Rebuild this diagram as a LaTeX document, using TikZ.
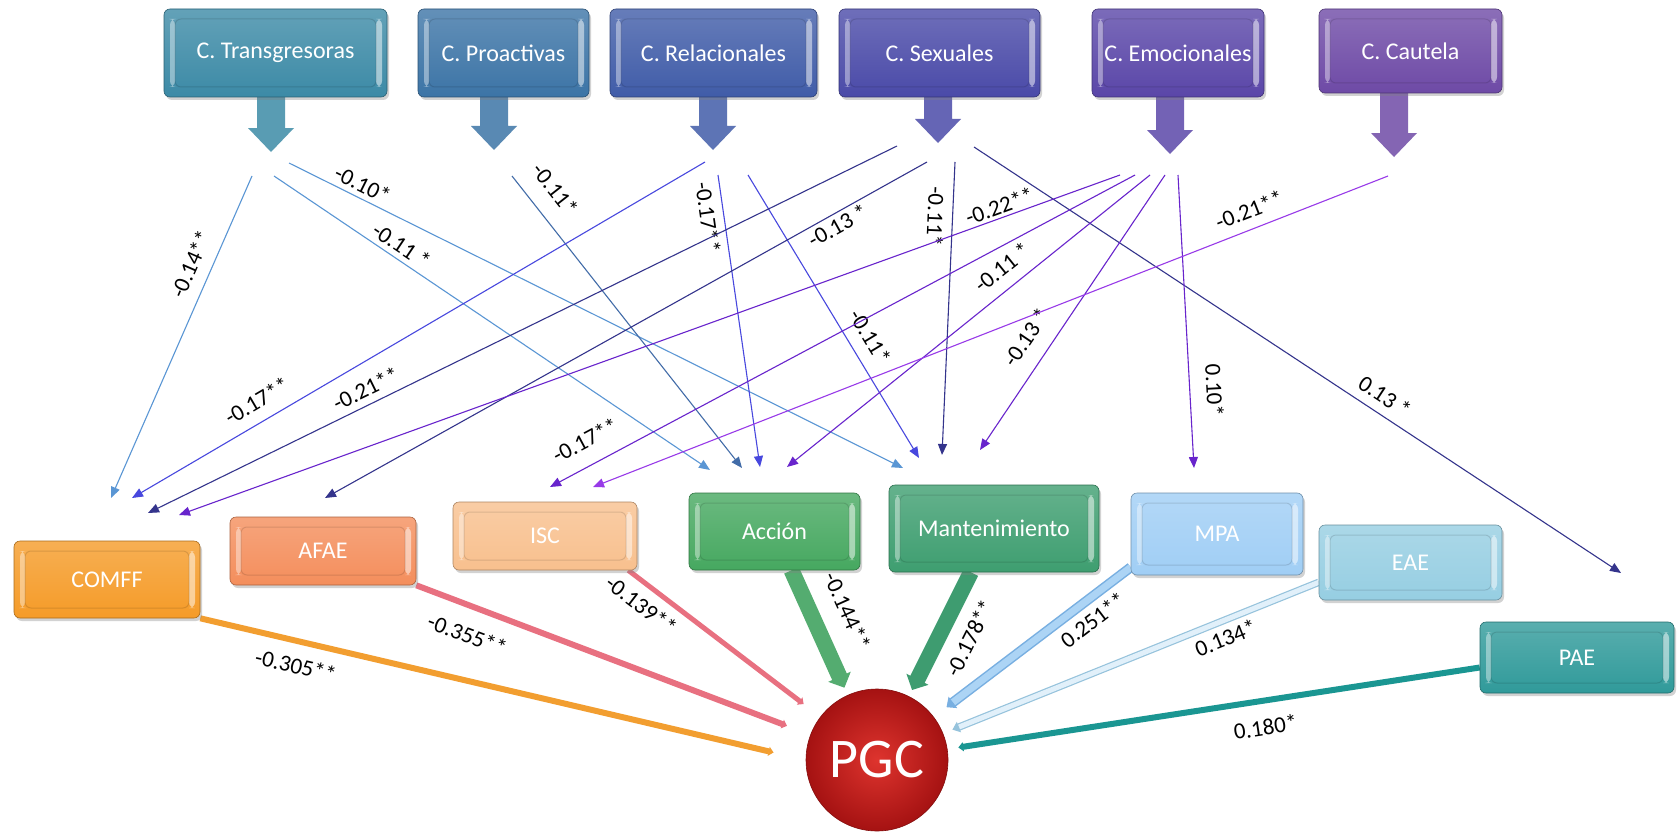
\documentclass[tikz,border=0pt]{standalone}
\usepackage{fontspec}
\setmainfont{Carlito}
\usetikzlibrary{arrows.meta,shadows,calc}
\newcommand\bxfont{\fontsize{24}{28}\selectfont}
\newcommand\lbfont{\fontsize{23}{26}\selectfont}
\definecolor{cTra}{RGB}{60,138,166}
\definecolor{cPro}{RGB}{60,116,166}
\definecolor{cRel}{RGB}{64,92,168}
\definecolor{cSex}{RGB}{74,74,168}
\definecolor{cEmo}{RGB}{90,70,168}
\definecolor{cCau}{RGB}{110,74,166}
\definecolor{cCom}{RGB}{245,155,40}
\definecolor{cAfa}{RGB}{244,142,92}
\definecolor{cIsc}{RGB}{248,192,142}
\definecolor{cAcc}{RGB}{70,168,96}
\definecolor{cMan}{RGB}{62,158,112}
\definecolor{cMpa}{RGB}{160,206,245}
\definecolor{cEae}{RGB}{150,206,226}
\definecolor{cPae}{RGB}{48,154,154}
\definecolor{lTra}{RGB}{90,150,212}
\definecolor{lPro}{RGB}{66,108,168}
\definecolor{lRel}{RGB}{72,72,222}
\definecolor{lSex}{RGB}{52,52,140}
\definecolor{lEmo}{RGB}{104,36,204}
\definecolor{lCau}{RGB}{152,58,232}
\definecolor{kCom}{RGB}{242,158,48}
\definecolor{kPnk}{RGB}{232,112,128}
\definecolor{kAcc}{RGB}{84,172,112}
\definecolor{kMan}{RGB}{62,156,112}
\definecolor{kMpaO}{RGB}{120,175,225}
\definecolor{kMpaI}{RGB}{172,212,245}
\definecolor{kEaeO}{RGB}{150,195,220}
\definecolor{kEaeI}{RGB}{225,240,250}
\definecolor{kPae}{RGB}{26,150,146}
\definecolor{pgcIn}{RGB}{222,52,46}
\definecolor{pgcOut}{RGB}{165,18,18}
\pgfdeclarelayer{bg}
\pgfsetlayers{bg,main}
\tikzset{
  bx/.style={rounded corners=6pt, top color=#1!80!white, bottom color=#1,
    draw=#1!70!black, line width=0.6pt, text=white, font=\bxfont, inner sep=2pt,
    drop shadow={opacity=0.35, shadow xshift=2pt, shadow yshift=-3pt},
    path picture={
      \fill[white,opacity=.4] ([xshift=6pt,yshift=-10pt]path picture bounding box.north west)
        rectangle ([xshift=11pt,yshift=10pt]path picture bounding box.south west);
      \fill[white,opacity=.5] ([xshift=-11pt,yshift=-10pt]path picture bounding box.north east)
        rectangle ([xshift=-5pt,yshift=10pt]path picture bounding box.south east);
      \draw[black,opacity=.12,line width=1pt] ([xshift=11pt,yshift=-10pt]path picture bounding box.north west)
        rectangle ([xshift=-11pt,yshift=10pt]path picture bounding box.south east);
    }},
  blockarrow/.pic={\fill[pic actions] (-14,0) -- (14,0) -- (14,{#1-24}) -- (23,{#1-24})
      -- (0,#1) -- (-23,{#1-24}) -- (-14,{#1-24}) -- cycle;},
  thn/.style={draw=#1, line width=1.1pt, -{Triangle[length=11pt,width=9pt]}},
  lbl/.style={sloped, font=\lbfont, inner sep=1pt, text=black},
  tkA/.style={draw=#1, line width=6pt, -{Triangle[length=5pt,width=9pt]}},
  tkG/.style={draw=#1, line width=16pt, -{Triangle[length=12pt,width=24pt]}},
}
\begin{document}
\begin{tikzpicture}[x=1pt,y=-1pt]
\useasboundingbox (0,0) rectangle (1677,832);
\begin{pgfonlayer}{bg}
\fill[white] (0,0) rectangle (1677,832);
\end{pgfonlayer}

% block arrows under top boxes
\pic[fill=cTra!85!white] at (271,95) {blockarrow=57};
\pic[fill=cPro!85!white] at (494,95) {blockarrow=55};
\pic[fill=cRel!85!white] at (713,95) {blockarrow=55};
\pic[fill=cSex!85!white] at (938,95) {blockarrow=48};
\pic[fill=cEmo!85!white] at (1170,95) {blockarrow=59};
\pic[fill=cCau!85!white] at (1394,91) {blockarrow=66};

% top boxes
\node[bx=cTra, minimum width=223pt, minimum height=88pt] (tra) at (275.5,53) {C. Transgresoras};
\node[bx=cPro, minimum width=171pt, minimum height=88pt] (pro) at (503.5,53) {C. Proactivas};
\node[bx=cRel, minimum width=207pt, minimum height=88pt] (rel) at (713.5,53) {C. Relacionales};
\node[bx=cSex, minimum width=201pt, minimum height=88pt] (sex) at (939.5,53) {C. Sexuales};
\node[bx=cEmo, minimum width=172pt, minimum height=88pt] (emo) at (1178,53) {C. Emocionales};
\node[bx=cCau, minimum width=183pt, minimum height=84pt] (cau) at (1410.5,51) {C. Cautela};

% bottom boxes
\node[bx=cCom, minimum width=186pt, minimum height=77pt] (comff) at (107,579.5) {COMFF};
\node[bx=cAfa, minimum width=186pt, minimum height=68pt] (afae) at (323,551) {AFAE};
\node[bx=cIsc, minimum width=184pt, minimum height=68pt] (isc) at (545,536) {ISC};
\node[bx=cAcc, minimum width=171pt, minimum height=77pt] (accion) at (774.5,531.5) {Acción};
\node[bx=cMan, minimum width=210pt, minimum height=87pt] (mant) at (994,528.5) {Mantenimiento};
\node[bx=cMpa, minimum width=172pt, minimum height=82pt] (mpa) at (1217,534) {MPA};
\node[bx=cEae, minimum width=183pt, minimum height=75pt] (eae) at (1410.5,562.5) {EAE};
\node[bx=cPae, minimum width=194pt, minimum height=71pt] (pae) at (1577,657.5) {PAE};

% PGC
\node[circle, minimum size=142pt, inner color=pgcIn, outer color=pgcOut, draw=pgcOut!80!black,
  line width=0.6pt, text=white, font=\fontsize{56}{60}\selectfont, inner sep=0pt] (pgc) at (877,760) {PGC};

% thick connectors into PGC
\begin{pgfonlayer}{bg}
\draw[tkA=kCom, shorten >=33pt] (comff.south east) -- node[lbl, pos=.167, below=12pt] {-0.305**} (pgc.west);
\draw[tkA=kPnk, shorten >=25pt] (afae.south east) -- node[lbl, pos=.155, below=16pt] {-0.355**} (pgc);
\draw[tkA=kPnk, line width=5pt, shorten >=21pt] ([xshift=-9pt]isc.south east) -- node[lbl, pos=.13, below=8pt] {-0.139**} (pgc);
\draw[tkG=kAcc, shorten >=8pt] ([xshift=17pt]accion.south) -- node[lbl, pos=.44, above=17pt] {-0.144**} (pgc);
\draw[tkG=kMan, shorten >=7pt] ([xshift=-23pt]mant.south) -- node[lbl, pos=.43, below=11pt] {-0.178**} (pgc);
\draw[draw=kMpaO, line width=1.5pt, double=kMpaI, double distance=7pt, -{Triangle[length=8pt,width=14pt]}, shorten >=16pt]
  ([yshift=8pt]mpa.south west) -- node[lbl, pos=.25, below=9pt] {0.251**} (pgc);
\draw[draw=kEaeO, line width=1.2pt, double=kEaeI, double distance=5pt, -{Triangle[length=7pt,width=11pt]}, shorten >=10pt]
  ([yshift=18pt]eae.south west) -- node[lbl, pos=.265, below=7pt] {0.134*} (pgc);
\draw[tkA=kPae, shorten >=11pt] ([yshift=-10pt]pae.west) -- node[lbl, pos=.41, below=14pt] {0.180*} (pgc);
\end{pgfonlayer}

% free ends of thin connectors
\coordinate (s1) at (252,176);  \coordinate (e1) at (111,498);
\coordinate (s2) at (289,163);  \coordinate (e2) at (903,468);
\coordinate (s3) at (274,176);  \coordinate (e3) at (710,470);
\coordinate (s4) at (512,176);  \coordinate (e4) at (742,468);
\coordinate (s5) at (705,162);  \coordinate (e5) at (132,498);
\coordinate (s6) at (718,175);  \coordinate (e6) at (760,467);
\coordinate (s7) at (748,175);  \coordinate (e7) at (919,458);
\coordinate (s8) at (897,146);  \coordinate (e8) at (148,513);
\coordinate (s9) at (927,162);  \coordinate (e9) at (325,498);
\coordinate (s10) at (955,162); \coordinate (e10) at (942,455);
\coordinate (s11) at (974,147); \coordinate (e11) at (1621,573);
\coordinate (s12) at (1120,175); \coordinate (e12) at (179,515);
\coordinate (s13) at (1135,175); \coordinate (e13) at (550,487);
\coordinate (s14) at (1150,175); \coordinate (e14) at (787,467);
\coordinate (s15) at (1165,175); \coordinate (e15) at (980,450);
\coordinate (s16) at (1178,175); \coordinate (e16) at (1194,468);
\coordinate (s17) at (1388,176); \coordinate (e17) at (593,487);

\draw[thn=lTra] (s1) -- node[lbl, pos=.30, above=11pt] {-0.14**} (e1);
\draw[thn=lTra] (s2) -- node[lbl, pos=.11, above=4pt] {-0.10*} (e2);
\draw[thn=lTra] (s3) -- node[lbl, pos=.275, above=4pt] {-0.11 *} (e3);
\draw[thn=lPro] (s4) -- node[lbl, pos=.10, above=16pt] {-0.11*} (e4);
\draw[thn=lRel] (s5) -- node[lbl, pos=.764, above=11pt] {-0.17**} (e5);
\draw[thn=lRel] (s6) -- node[lbl, pos=.137, below=6pt] {-0.17**} (e6);
\draw[thn=lRel] (s7) -- node[lbl, pos=.61, above=11pt] {-0.11*} (e7);
\draw[thn=lSex] (s8) -- node[lbl, pos=.70, above=6pt] {-0.21**} (e8);
\draw[thn=lSex] (s9) -- node[lbl, pos=.158, below=2pt] {-0.13 *} (e9);
\draw[thn=lSex] (s10) -- node[lbl, allow upside down, pos=.19, below=7pt] {-0.11*} (e10);
\draw[thn=lSex] (s11) -- node[lbl, pos=.62, above=8pt] {0.13 *} (e11);
\draw[thn=lEmo] (s12) -- node[lbl, pos=.124, above=2pt] {-0.22**} (e12);
\draw[thn=lEmo] (s13) -- node[lbl, pos=.92, above=15pt] {-0.17**} (e13);
\draw[thn=lEmo] (s14) -- node[lbl, pos=.372, above=11pt] {-0.11 *} (e14);
\draw[thn=lEmo] (s15) -- node[lbl, pos=.64, above=15pt] {-0.13 *} (e15);
\draw[thn=lEmo] (s16) -- node[lbl, pos=.74, above=15pt] {0.10*} (e16);
\draw[thn=lCau] (s17) -- node[lbl, pos=.166, above=9pt] {-0.21**} (e17);
\end{tikzpicture}
\end{document}
